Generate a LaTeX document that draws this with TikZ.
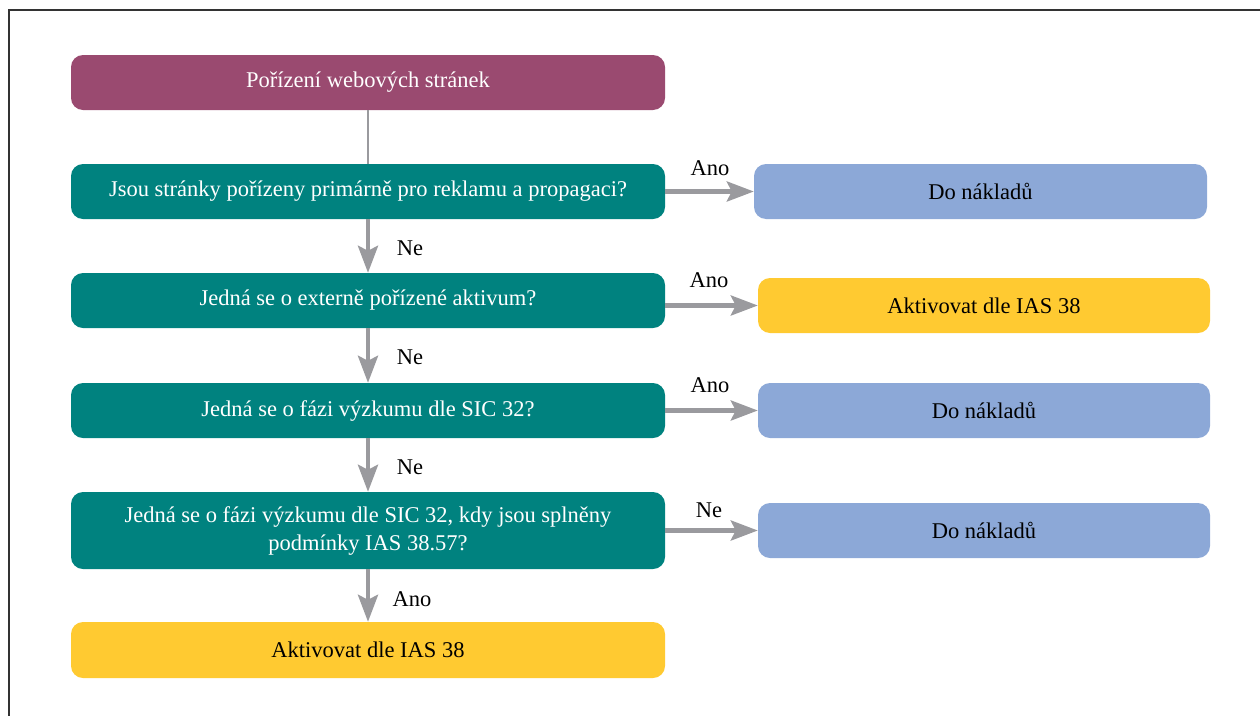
\documentclass[tikz,border=0pt]{standalone}
\usepackage{fontspec}
\setmainfont{Liberation Serif}
\usetikzlibrary{arrows.meta}
\definecolor{purp}{HTML}{9A4A70}
\definecolor{teal1}{HTML}{00827F}
\definecolor{blue1}{HTML}{8CA8D7}
\definecolor{yell}{HTML}{FFCA31}
\definecolor{arrg}{HTML}{9A9A9E}
\definecolor{frameg}{HTML}{333333}
\tikzset{
  box/.style={rectangle, rounded corners=12pt, minimum width=594pt, minimum height=55pt, inner sep=0pt, align=center, font=\fontsize{22.5}{28}\selectfont},
  pbox/.style={box, fill=purp, text=white},
  tbox/.style={box, fill=teal1, text=white},
  ybox/.style={box, fill=yell, text=black},
  rbox/.style={box, fill=blue1, text=black, minimum width=452pt},
  rybox/.style={box, fill=yell, text=black, minimum width=452pt},
  arr/.style={draw=arrg, line width=4.5pt, -{Stealth[length=27pt,width=20pt,inset=5pt]}},
  lab/.style={font=\fontsize{22.5}{26}\selectfont, inner sep=0pt}
}
\begin{document}
\begin{tikzpicture}[x=1pt,y=-1pt]
\useasboundingbox (0,0) rectangle (1260,715);
\begin{scope}
\clip (0,0) rectangle (1260,715);
\draw[frameg, line width=2pt] (8.5,9.5) rectangle (1290,740);
\end{scope}
\node[pbox] (b1) at (368,82.5) {Pořízení webových stránek};
\node[tbox] (b2) at (368,191.5) {Jsou stránky pořízeny primárně pro reklamu a propagaci?};
\node[tbox] (b3) at (368,300.5) {Jedná se o externě pořízené aktivum?};
\node[tbox] (b4) at (368,410.5) {Jedná se o fázi výzkumu dle SIC 32?};
\node[tbox, minimum height=77pt] (b5) at (368,530.5) {Jedná se o fázi výzkumu dle SIC 32, kdy jsou splněny\\podmínky IAS 38.57?};
\node[ybox, minimum height=56pt] (b6) at (368,650) {Aktivovat dle IAS 38};
\node[rbox, minimum width=453pt] (r1) at (980.5,191.5) {Do nákladů};
\node[rybox] (r2) at (984,305.5) {Aktivovat dle IAS 38};
\node[rbox] (r3) at (984,410.5) {Do nákladů};
\node[rbox] (r4) at (984,530.5) {Do nákladů};
\draw[arrg, line width=2pt] (b1.south) -- (b2.north);
\draw[arr] (b2.south) -- (b3.north);
\draw[arr] (b3.south) -- (b4.north);
\draw[arr] (b4.south) -- (b5.north);
\draw[arr] (b5.south) -- (b6.north);
\draw[arr] (b2.east) -- (r1.west);
\draw[arr] (b3.east |- r2.west) -- (r2.west);
\draw[arr] (b4.east) -- (r3.west);
\draw[arr] (b5.east) -- (r4.west);
\node[lab] (l1) at (410,248) {Ne};
\node[lab] (l2) at (410,357) {Ne};
\node[lab] (l3) at (410,467) {Ne};
\node[lab] (l4) at (412,599) {Ano};
\node[lab] (l5) at (710,168) {Ano};
\node[lab] (l6) at (709,280) {Ano};
\node[lab] (l7) at (710,385) {Ano};
\node[lab] (l8) at (709,510) {Ne};
\end{tikzpicture}
\end{document}
